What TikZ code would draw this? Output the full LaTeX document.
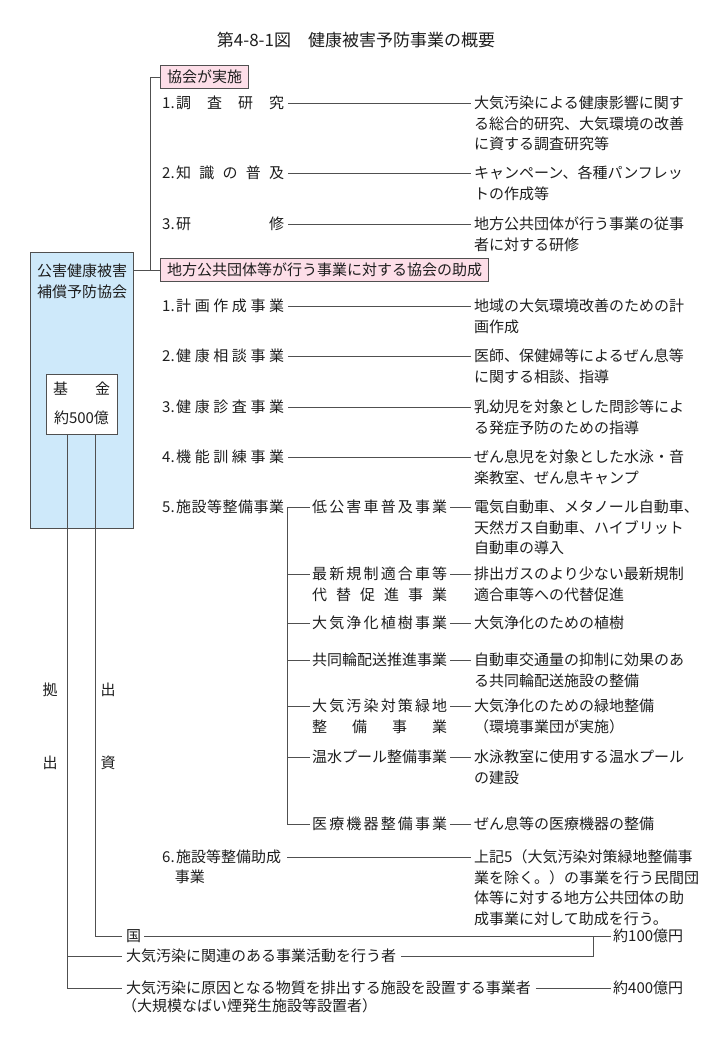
\documentclass[tikz,border=0pt]{standalone}
\usepackage{fontspec}
\setmainfont{Noto Sans CJK JP}
\usetikzlibrary{calc}
\definecolor{linec}{RGB}{80,80,80}
\definecolor{textc}{RGB}{30,30,30}
\definecolor{bluec}{RGB}{206,233,250}
\definecolor{pinkc}{RGB}{253,222,232}
\newcommand\fs{\rule{0pt}{13.2pt}}
\newcommand\spreadtxt[2]{\hbox to #1{#2}}
\newcommand\hf{\hfill}
\newcommand\numlab[2]{#1.\hspace{1.5pt}\spreadtxt{108pt}{#2}}
\newcommand\sublab[1]{\spreadtxt{135pt}{#1}}
\begin{document}
\begin{tikzpicture}[x=1pt,y=-1pt,
 every node/.style={inner sep=0pt, text=textc},
 bf/.style={font=\fontsize{15}{20.5}\selectfont},
 txt/.style={bf, anchor=west, text height=13.2pt, text depth=1.8pt},
 ctxt/.style={bf, anchor=center, text height=13.2pt, text depth=1.8pt},
 desc/.style={bf, anchor=north west, align=left},
 ln/.style={draw=linec, line width=1pt},
 hdr/.style={bf, draw=linec, fill=pinkc, line width=1pt, anchor=west, text height=13.2pt, text depth=1.8pt, inner xsep=6.5pt, inner ysep=4pt},
 boxst/.style={draw=linec, line width=1pt, anchor=north west, inner sep=0pt},
]
\useasboundingbox (0,0) rectangle (712,1041);

% title
\node[font=\fontsize{17}{17}\selectfont] (title) at (356,40) {第4-8-1図　健康被害予防事業の概要};

% association box
\node[boxst, fill=bluec, minimum width=103pt, minimum height=276pt] (assoc) at (30,252) {};
\node[desc, align=center, anchor=north] (aname) at (82,263.5) {\fs 公害健康被害\\補償予防協会};
\node[boxst, fill=white, minimum width=71pt, minimum height=60pt] (fund) at (46,374) {};
\node[ctxt] (kikin) at (81.5,389) {\spreadtxt{57pt}{基\hf 金}};
\node[ctxt] (oku) at (81.5,418) {約500億};

% headers
\node[hdr] (h1) at (160,77) {協会が実施};
\node[hdr] (h2) at (160,270) {地方公共団体等が行う事業に対する協会の助成};
\draw[ln] (h1.west) -- ++(-10,0) |- (h2.west);
\draw[ln] (assoc.north east |- h2.west) -- (h2.west);

\coordinate (lstart) at (287,0);
\coordinate (dcol) at (474,0);

% section 1
\node[txt] (a1) at (162,103) {\numlab{1}{調\hf 査\hf 研\hf 究}};
\node[desc] (da1) at (474,95.5) {\fs 大気汚染による健康影響に関す\\る総合的研究、大気環境の改善\\に資する調査研究等};
\node[txt] (a2) at (162,173) {\numlab{2}{知\hf 識\hf の\hf 普\hf 及}};
\node[desc] (da2) at (474,165.5) {\fs キャンペーン、各種パンフレッ\\トの作成等};
\node[txt] (a3) at (162,224) {\numlab{3}{研\hf 修}};
\node[desc] (da3) at (474,216.5) {\fs 地方公共団体が行う事業の従事\\者に対する研修};
\foreach \n in {a1,a2,a3} {
  \draw[ln] ([xshift=4pt]\n.east) -- ([xshift=-3pt]\n.east -| d\n.west);
}

% section 2
\node[txt] (b1) at (162,306) {\numlab{1}{計\hf 画\hf 作\hf 成\hf 事\hf 業}};
\node[desc] (db1) at (474,298.5) {\fs 地域の大気環境改善のための計\\画作成};
\node[txt] (b2) at (162,356) {\numlab{2}{健\hf 康\hf 相\hf 談\hf 事\hf 業}};
\node[desc] (db2) at (474,348.5) {\fs 医師、保健婦等によるぜん息等\\に関する相談、指導};
\node[txt] (b3) at (162,407) {\numlab{3}{健\hf 康\hf 診\hf 査\hf 事\hf 業}};
\node[desc] (db3) at (474,399.5) {\fs 乳幼児を対象とした問診等によ\\る発症予防のための指導};
\node[txt] (b4) at (162,457) {\numlab{4}{機\hf 能\hf 訓\hf 練\hf 事\hf 業}};
\node[desc] (db4) at (474,449.5) {\fs ぜん息児を対象とした水泳・音\\楽教室、ぜん息キャンプ};
\foreach \n in {b1,b2,b3,b4} {
  \draw[ln] ([xshift=4pt]\n.east) -- ([xshift=-3pt]\n.east -| d\n.west);
}
\node[txt] (b5) at (162,507) {\numlab{5}{施\hf 設\hf 等\hf 整\hf 備\hf 事\hf 業}};

% sub items of 5
\node[txt] (sa) at (312,507) {\sublab{低\hf 公\hf 害\hf 車\hf 普\hf 及\hf 事\hf 業}};
\node[desc] (dsa) at (474,499.5) {\fs 電気自動車、メタノール自動車、\\天然ガス自動車、ハイブリット\\自動車の導入};
\node[txt] (sb) at (312,574) {\sublab{最\hf 新\hf 規\hf 制\hf 適\hf 合\hf 車\hf 等}};
\node[txt] (sb2) at (312,594.5) {\sublab{代\hf 替\hf 促\hf 進\hf 事\hf 業}};
\node[desc] (dsb) at (474,566.5) {\fs 排出ガスのより少ない最新規制\\適合車等への代替促進};
\node[txt] (sc) at (312,623) {\sublab{大\hf 気\hf 浄\hf 化\hf 植\hf 樹\hf 事\hf 業}};
\node[desc] (dsc) at (474,615.5) {\fs 大気浄化のための植樹};
\node[txt] (sd) at (312,660) {\sublab{共\hf 同\hf 輪\hf 配\hf 送\hf 推\hf 進\hf 事\hf 業}};
\node[desc] (dsd) at (474,652.5) {\fs 自動車交通量の抑制に効果のあ\\る共同輪配送施設の整備};
\node[txt] (se) at (312,706) {\sublab{大\hf 気\hf 汚\hf 染\hf 対\hf 策\hf 緑\hf 地}};
\node[txt] (se2) at (312,726.5) {\sublab{整\hf 備\hf 事\hf 業}};
\node[desc] (dse) at (474,698.5) {\fs 大気浄化のための緑地整備\\（環境事業団が実施）};
\node[txt] (sf) at (312,757) {\sublab{温\hf 水\hf プ\hf ー\hf ル\hf 整\hf 備\hf 事\hf 業}};
\node[desc] (dsf) at (474,749.5) {\fs 水泳教室に使用する温水プール\\の建設};
\node[txt] (sg) at (312,824) {\sublab{医\hf 療\hf 機\hf 器\hf 整\hf 備\hf 事\hf 業}};
\node[desc] (dsg) at (474,816.5) {\fs ぜん息等の医療機器の整備};
\foreach \n in {sa,sb,sc,sd,se,sf,sg} {
  \draw[ln] ([xshift=3pt]\n.east) -- ([xshift=-3pt]\n.east -| d\n.west);
}
\draw[ln] ([xshift=-2pt]sa.west) -| (lstart |- sg.west) -- ([xshift=-2pt]sg.west);
\foreach \n in {sb,sc,sd,se,sf} {
  \draw[ln] (lstart |- \n.west) -- ([xshift=-2pt]\n.west);
}

% item 6
\node[txt] (b6) at (162,857) {6.\hspace{1.5pt}施設等整備助成};
\node[txt] (b6b) at (174.6,877) {事業};
\node[desc] (db6) at (474,849.5) {\fs 上記5（大気汚染対策緑地整備事\\業を除く。）の事業を行う民間団\\体等に対する地方公共団体の助\\成事業に対して助成を行う。};
\draw[ln] (lstart |- b6.east) -- ([xshift=-3pt]b6.east -| db6.west);

% funding sources
\coordinate (f1) at ($(fund.south west)+(21,0)$);
\coordinate (f2) at ($(fund.south west)+(49,0)$);
\node[txt] (kuni) at (126,936) {国};
\node[txt] (kanren) at (126,956) {大気汚染に関連のある事業活動を行う者};
\node[txt] (genin) at (126,988) {大気汚染に原因となる物質を排出する施設を設置する事業者};
\node[txt] (genin2) at (122,1006) {（大規模なばい煙発生施設等設置者）};
\node[txt] (y100) at (613,936) {約100億円};
\node[txt] (y400) at (613,988) {約400億円};
\coordinate (join) at (593,936);

\draw[ln] (f2) |- ([xshift=-4pt]kuni.west);
\draw[ln] (f1) |- ([xshift=-4pt]genin.west);
\draw[ln] (f1 |- kanren.west) -- ([xshift=-4pt]kanren.west);
\draw[ln] ([xshift=3pt]kuni.east) -- ([xshift=-2pt]y100.west);
\draw[ln] ([xshift=5pt]kanren.east) -| (join);
\draw[ln] ([xshift=5pt]genin.east) -- ([xshift=-2pt]y400.west);

% vertical labels
\node[ctxt] (kyo1) at (50,690) {拠};
\node[ctxt] (kyo2) at (50,763) {出};
\node[ctxt] (shi1) at (108,690) {出};
\node[ctxt] (shi2) at (108,763) {資};
\end{tikzpicture}
\end{document}
